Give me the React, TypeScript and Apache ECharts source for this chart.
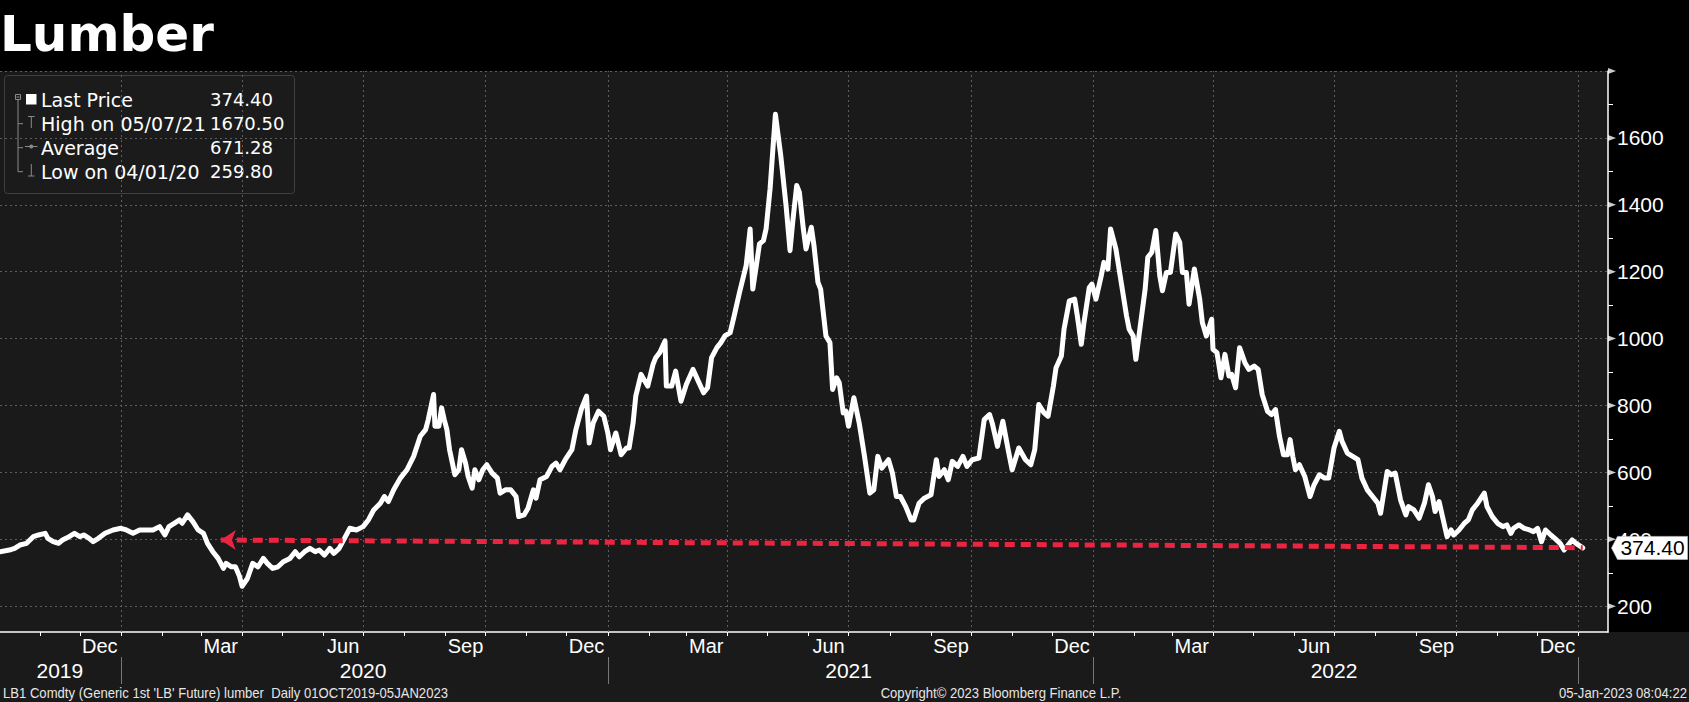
import React, { useEffect, useRef } from 'react';
import * as echarts from 'echarts';

// ---------------- DATA ----------------
const dates2019 = [
  '2019-10-02','2019-10-09','2019-10-13','2019-10-17','2019-10-22','2019-10-27','2019-10-31','2019-11-05','2019-11-07','2019-11-11',
  '2019-11-15','2019-11-18','2019-11-23','2019-11-27','2019-12-01','2019-12-04','2019-12-08','2019-12-11','2019-12-15','2019-12-20',
  '2019-12-26',
];
const prices2019 = [
  363,368,373,383,388,408,413,418,403,393,
  388,398,408,418,408,413,403,393,403,418,
  428,
];

const dates2020 = [
  '2020-01-01','2020-01-05','2020-01-10','2020-01-15','2020-01-20','2020-01-25','2020-01-30','2020-02-03','2020-02-06','2020-02-10',
  '2020-02-14','2020-02-16','2020-02-20','2020-02-24','2020-02-28','2020-03-03','2020-03-06','2020-03-10','2020-03-14','2020-03-18',
  '2020-03-20','2020-03-24','2020-03-27','2020-03-30','2020-04-01','2020-04-05','2020-04-09','2020-04-13','2020-04-17','2020-04-20',
  '2020-04-24','2020-04-28','2020-05-02','2020-05-07','2020-05-11','2020-05-14','2020-05-18','2020-05-22','2020-05-26','2020-05-29',
  '2020-06-02','2020-06-06','2020-06-09','2020-06-13','2020-06-17','2020-06-21','2020-06-26','2020-07-01','2020-07-05','2020-07-09',
  '2020-07-14','2020-07-17','2020-07-20','2020-07-24','2020-07-29','2020-08-03','2020-08-08','2020-08-13','2020-08-17','2020-08-19',
  '2020-08-23','2020-08-24','2020-08-27','2020-08-29','2020-08-31','2020-09-02','2020-09-04','2020-09-08','2020-09-11','2020-09-13',
  '2020-09-16','2020-09-18','2020-09-21','2020-09-23','2020-09-26','2020-09-29','2020-10-02','2020-10-06','2020-10-10','2020-10-12',
  '2020-10-16','2020-10-20','2020-10-24','2020-10-26','2020-10-30','2020-11-02','2020-11-06','2020-11-08','2020-11-11','2020-11-16',
  '2020-11-20','2020-11-23','2020-11-26','2020-11-30','2020-12-05','2020-12-08','2020-12-12','2020-12-16','2020-12-18','2020-12-21',
  '2020-12-25','2020-12-29',
];
const prices2020 = [
  433,428,418,428,428,428,438,413,438,448,
  458,448,473,453,428,418,388,363,343,313,
  328,318,318,290,259.8,283,328,318,343,328,
  313,318,333,343,363,348,363,373,363,368,
  353,373,358,373,403,433,428,438,458,488,
  508,528,513,548,583,608,648,708,728,758,
  833,738,738,793,758,728,668,593,608,668,
  628,588,553,608,578,608,623,598,583,538,
  548,548,528,468,473,493,548,523,578,588,
  618,628,608,638,668,728,788,828,688,748,
  783,768,
];

const dates2021 = [
  '2021-01-01','2021-01-03','2021-01-07','2021-01-11','2021-01-15','2021-01-17','2021-01-20','2021-01-22','2021-01-26','2021-01-31',
  '2021-02-04','2021-02-06','2021-02-09','2021-02-13','2021-02-14','2021-02-18','2021-02-21','2021-02-25','2021-03-01','2021-03-06',
  '2021-03-10','2021-03-14','2021-03-17','2021-03-20','2021-03-24','2021-03-27','2021-03-30','2021-04-03','2021-04-06','2021-04-10',
  '2021-04-15','2021-04-18','2021-04-20','2021-04-23','2021-04-25','2021-04-28','2021-04-30','2021-05-03','2021-05-05','2021-05-07',
  '2021-05-11','2021-05-15','2021-05-18','2021-05-20','2021-05-23','2021-05-25','2021-05-28','2021-05-30','2021-06-03','2021-06-05',
  '2021-06-08','2021-06-10','2021-06-14','2021-06-17','2021-06-19','2021-06-22','2021-06-24','2021-06-27','2021-06-29','2021-07-01',
  '2021-07-05','2021-07-09','2021-07-13','2021-07-17','2021-07-20','2021-07-23','2021-07-26','2021-07-31','2021-08-03','2021-08-06',
  '2021-08-09','2021-08-13','2021-08-17','2021-08-19','2021-08-23','2021-08-27','2021-09-01','2021-09-05','2021-09-07','2021-09-11',
  '2021-09-14','2021-09-17','2021-09-21','2021-09-25','2021-09-28','2021-10-02','2021-10-07','2021-10-11','2021-10-15','2021-10-17',
  '2021-10-21','2021-10-25','2021-10-29','2021-11-01','2021-11-06','2021-11-11','2021-11-15','2021-11-18','2021-11-21','2021-11-25',
  '2021-11-28','2021-12-02','2021-12-04','2021-12-08','2021-12-10','2021-12-14','2021-12-18','2021-12-20','2021-12-23','2021-12-25',
  '2021-12-29','2021-12-31',
];
const prices2021 = [
  718,668,718,653,673,673,748,828,893,858,
  923,943,958,993,858,858,903,813,863,908,
  873,838,853,943,973,988,1008,1018,1068,1138,
  1218,1328,1148,1228,1283,1293,1328,1448,1560,1670.5,
  1548,1398,1263,1348,1458,1438,1328,1268,1333,1278,
  1168,1148,1008,988,848,883,868,778,783,738,
  823,748,648,538,548,648,613,638,598,528,
  528,498,458,458,508,523,533,638,588,608,
  578,633,618,648,618,638,643,758,773,748,
  678,753,668,608,673,638,623,668,803,778,
  768,858,913,948,1028,1113,1118,1068,983,1048,
  1153,1163,
];

const dates2022 = [
  '2022-01-03','2022-01-07','2022-01-09','2022-01-12','2022-01-14','2022-01-18','2022-01-22','2022-01-26','2022-01-28','2022-01-31',
  '2022-02-02','2022-02-05','2022-02-09','2022-02-11','2022-02-14','2022-02-17','2022-02-20','2022-02-22','2022-02-25','2022-02-28',
  '2022-03-04','2022-03-07','2022-03-09','2022-03-12','2022-03-14','2022-03-18','2022-03-22','2022-03-24','2022-03-27','2022-03-31',
  '2022-04-01','2022-04-04','2022-04-07','2022-04-10','2022-04-13','2022-04-15','2022-04-18','2022-04-21','2022-04-25','2022-04-28',
  '2022-05-02','2022-05-05','2022-05-08','2022-05-12','2022-05-15','2022-05-18','2022-05-21','2022-05-24','2022-05-27','2022-05-29',
  '2022-05-31','2022-06-02','2022-06-05','2022-06-09','2022-06-13','2022-06-16','2022-06-20','2022-06-24','2022-06-27','2022-07-01',
  '2022-07-05','2022-07-07','2022-07-11','2022-07-15','2022-07-19','2022-07-22','2022-07-26','2022-07-30','2022-08-03','2022-08-05',
  '2022-08-08','2022-08-10','2022-08-13','2022-08-16','2022-08-20','2022-08-24','2022-08-26','2022-08-30','2022-09-03','2022-09-07',
  '2022-09-10','2022-09-13','2022-09-15','2022-09-18','2022-09-20','2022-09-24','2022-09-27','2022-09-29','2022-10-03','2022-10-07',
  '2022-10-10','2022-10-13','2022-10-17','2022-10-22','2022-10-24','2022-10-28','2022-11-01','2022-11-05','2022-11-08','2022-11-11',
  '2022-11-13','2022-11-17','2022-11-21','2022-11-25','2022-11-28','2022-12-01','2022-12-04','2022-12-07','2022-12-11','2022-12-14',
  '2022-12-18','2022-12-21','2022-12-23','2022-12-27','2022-12-30','2023-01-04',
];
const prices2022 = [
  1118,1188,1228,1208,1328,1268,1168,1068,1028,1008,
  938,1028,1148,1243,1258,1323,1188,1143,1198,1198,
  1313,1288,1198,1198,1103,1208,1118,1048,1008,1058,
  968,958,883,953,888,893,853,973,928,908,
  918,908,833,783,773,788,708,653,653,698,
  648,608,623,588,528,563,593,583,583,673,
  723,693,658,648,638,583,548,528,508,478,
  553,603,593,598,518,473,498,488,463,508,
  563,528,483,513,478,408,428,413,428,448,
  458,488,508,538,498,468,448,438,443,418,
  433,443,433,428,423,433,393,428,413,403,
  388,368,378,398,388,374.4,
];

// axis extents and ticks
const axisStart = '2019-10-02';
const axisEnd = '2023-01-23';
const yMin = 123;
const yMax = 1800;

const monthTicks = [
  '2019-11-01','2019-12-01',
  '2020-01-01','2020-02-01','2020-03-01','2020-04-01','2020-05-01','2020-06-01','2020-07-01','2020-08-01','2020-09-01','2020-10-01','2020-11-01','2020-12-01',
  '2021-01-01','2021-02-01','2021-03-01','2021-04-01','2021-05-01','2021-06-01','2021-07-01','2021-08-01','2021-09-01','2021-10-01','2021-11-01','2021-12-01',
  '2022-01-01','2022-02-01','2022-03-01','2022-04-01','2022-05-01','2022-06-01','2022-07-01','2022-08-01','2022-09-01','2022-10-01','2022-11-01','2022-12-01',
  '2023-01-01',
];
const quarterLines = [
  '2020-01-01','2020-04-01','2020-07-01','2020-10-01',
  '2021-01-01','2021-04-01','2021-07-01','2021-10-01',
  '2022-01-01','2022-04-01','2022-07-01','2022-10-01',
  '2023-01-01',
];
const monthLabelDates = [
  '2019-12-16','2020-03-16','2020-06-16','2020-09-16','2020-12-16','2021-03-16','2021-06-16',
  '2021-09-16','2021-12-16','2022-03-16','2022-06-16','2022-09-16','2022-12-16',
];
const monthNames = ['Jan','Feb','Mar','Apr','May','Jun','Jul','Aug','Sep','Oct','Nov','Dec'];
const yearLabelDates = ['2019-11-16','2020-07-01','2021-07-01','2022-07-01'];
const yearSeparators = ['2020-01-01','2021-01-01','2022-01-01','2023-01-01'];

const yGridValues = [200,400,600,800,1000,1200,1400,1600,1800];
const yLabelValues = [200,400,600,800,1000,1200,1400,1600];
const yMinorValues = [300,500,700,900,1100,1300,1500,1700];

const trendFrom = { date: '2020-03-16', value: 398 };
const trendTo = { date: '2023-01-04', value: 375 };

const lastPriceText = '374.40';
const legendLabels = ['Last Price','High on 05/07/21','Average','Low on 04/01/20'];
const legendValues = ['374.40','1670.50','671.28','259.80'];

const titleText = 'Lumber';
const footerLeft = "LB1 Comdty (Generic 1st 'LB' Future) lumber  Daily 01OCT2019-05JAN2023";
const footerMid = 'Copyright\u00A9 2023 Bloomberg Finance L.P.';
const footerRight = '05-Jan-2023 08:04:22';

// ---------------- HELPERS ----------------
const ts = (s: string) => {
  const [y, m, d] = s.split('-').map(Number);
  return Date.UTC(y, m - 1, d);
};

const allDates = [...dates2019, ...dates2020, ...dates2021, ...dates2022];
const allPrices = [...prices2019, ...prices2020, ...prices2021, ...prices2022];
const seriesData = allDates.map((d, i) => [ts(d), allPrices[i]]);
const lastPoint = seriesData[seriesData.length - 1];

const W = 1689;
const H = 702;
const gridLeft = 0;
const gridRight = 81;
const gridTop = 71;
const gridBottom = 70;
const plotRight = W - gridRight;
const plotBottom = H - gridBottom;

const AX_FONT = "'Liberation Sans', Arial, sans-serif";
const FOOT_FONT = "'Liberation Sans', Arial, sans-serif";
const LEG_FONT = "'DejaVu Sans', Verdana, sans-serif";
const ICON = '#8a8a8a';
const RED = '#ea2441';

function buildLegend() {
  const rowY = [99.7, 123.7, 147.7, 171.7];
  const children: any[] = [
    {
      type: 'rect',
      shape: { x: 4.5, y: 75.5, width: 290, height: 118, r: 3 },
      style: { fill: '#1b1b1b', stroke: '#404040', lineWidth: 1 },
    },
    // tree box
    { type: 'rect', shape: { x: 15.5, y: 94.5, width: 5, height: 5 }, style: { fill: 'none', stroke: ICON, lineWidth: 1 } },
    { type: 'line', shape: { x1: 16.5, y1: 97, x2: 19.5, y2: 97 }, style: { stroke: ICON, lineWidth: 1 } },
    { type: 'line', shape: { x1: 18, y1: 100, x2: 18, y2: rowY[3] }, style: { stroke: ICON, lineWidth: 1 } },
    { type: 'line', shape: { x1: 18, y1: rowY[1], x2: 23, y2: rowY[1] }, style: { stroke: ICON, lineWidth: 1 } },
    { type: 'line', shape: { x1: 18, y1: rowY[2], x2: 23, y2: rowY[2] }, style: { stroke: ICON, lineWidth: 1 } },
    { type: 'line', shape: { x1: 18, y1: rowY[3], x2: 23, y2: rowY[3] }, style: { stroke: ICON, lineWidth: 1 } },
    // row icons
    { type: 'rect', shape: { x: 26, y: 94, width: 10.5, height: 10.5 }, style: { fill: '#ffffff' } },
    { type: 'line', shape: { x1: 28, y1: 116.5, x2: 34.5, y2: 116.5 }, style: { stroke: ICON, lineWidth: 1 } },
    { type: 'line', shape: { x1: 31.3, y1: 116.5, x2: 31.3, y2: 128 }, style: { stroke: ICON, lineWidth: 1 } },
    { type: 'line', shape: { x1: 25, y1: 146.5, x2: 37.5, y2: 146.5 }, style: { stroke: ICON, lineWidth: 1 } },
    { type: 'circle', shape: { cx: 31.3, cy: 146.5, r: 2 }, style: { fill: ICON } },
    { type: 'line', shape: { x1: 31.3, y1: 164, x2: 31.3, y2: 176 }, style: { stroke: ICON, lineWidth: 1 } },
    { type: 'line', shape: { x1: 28, y1: 176, x2: 34.5, y2: 176 }, style: { stroke: ICON, lineWidth: 1 } },
  ];
  legendLabels.forEach((t, i) => {
    children.push({
      type: 'text',
      x: 41,
      y: rowY[i],
      style: { text: t, fill: '#ffffff', fontSize: 19, fontFamily: LEG_FONT, verticalAlign: 'middle', align: 'left' },
    });
    children.push({
      type: 'text',
      x: 210,
      y: rowY[i],
      style: { text: legendValues[i], fill: '#ffffff', fontSize: 18, fontFamily: LEG_FONT, verticalAlign: 'middle', align: 'left' },
    });
  });
  return { type: 'group', children };
}

function buildOption(): any {
  return {
    animation: false,
    backgroundColor: '#1a1a1a',
    grid: {
      left: gridLeft,
      right: gridRight,
      top: gridTop,
      bottom: gridBottom,
      containLabel: false,
      outerBoundsMode: 'none',
    },
    xAxis: [
      {
        type: 'value',
        min: ts(axisStart),
        max: ts(axisEnd),
        position: 'bottom',
        axisLine: { show: true, onZero: false, lineStyle: { color: '#ffffff', width: 1.5 } },
        axisTick: {
          show: true,
          customValues: monthTicks.map(ts),
          length: 4,
          lineStyle: { color: '#ffffff', width: 1 },
        },
        axisLabel: {
          show: true,
          customValues: monthLabelDates.map(ts),
          formatter: (v: number) => monthNames[new Date(v).getUTCMonth()],
          color: '#ffffff',
          fontSize: 20,
          fontFamily: AX_FONT,
          margin: 4,
        },
        splitLine: { show: false },
      },
      {
        type: 'value',
        min: ts(axisStart),
        max: ts(axisEnd),
        position: 'bottom',
        offset: 25,
        axisLine: { show: false, onZero: false },
        axisTick: {
          show: true,
          customValues: yearSeparators.map(ts),
          length: 27,
          lineStyle: { color: '#777777', width: 1 },
        },
        axisLabel: {
          show: true,
          customValues: yearLabelDates.map(ts),
          formatter: (v: number) => String(new Date(v).getUTCFullYear()),
          color: '#ffffff',
          fontSize: 21,
          fontFamily: AX_FONT,
          margin: 3,
        },
        splitLine: { show: false },
      },
    ],
    yAxis: {
      type: 'value',
      position: 'right',
      min: yMin,
      max: yMax,
      axisLine: { show: true, onZero: false, lineStyle: { color: '#ffffff', width: 1.5 } },
      axisTick: {
        show: true,
        customValues: yMinorValues,
        length: 5,
        lineStyle: { color: '#ffffff', width: 1 },
      },
      axisLabel: {
        show: true,
        customValues: yLabelValues,
        formatter: (v: number) => String(v),
        color: '#ffffff',
        fontSize: 21,
        fontFamily: AX_FONT,
        margin: 9,
      },
      splitLine: { show: false },
    },
    series: [
      {
        name: 'grid',
        type: 'line',
        data: [],
        silent: true,
        z: 1,
        markLine: {
          silent: true,
          z: 1,
          symbol: 'none',
          label: { show: false },
          emphasis: { disabled: true },
          lineStyle: { color: '#5e5e5e', type: [2, 3], width: 1 },
          data: [
            ...yGridValues.map((v) => ({ yAxis: v })),
            ...quarterLines.map((d) => ({ xAxis: ts(d) })),
          ],
        },
      },
      {
        name: 'Last Price',
        type: 'line',
        data: seriesData,
        showSymbol: false,
        symbol: 'none',
        z: 3,
        lineStyle: { color: '#ffffff', width: 5, join: 'round', cap: 'round' },
        silent: true,
        markLine: {
          silent: true,
          z: 6,
          label: { show: false },
          emphasis: { disabled: true },
          lineStyle: { color: RED, width: 5, type: [10, 6] },
          data: [
            [
              { coord: [ts(trendFrom.date), trendFrom.value], symbol: 'arrow', symbolSize: [15, 15] },
              { coord: [ts(trendTo.date), trendTo.value], symbol: 'none' },
            ],
          ],
        },
        markPoint: {
          silent: true,
          z: 7,
          data: [{ coord: lastPoint, value: lastPoint[1] }],
          symbol: 'path://M0,11.5L6,0L76,0L76,23L6,23Z',
          symbolSize: [76, 23],
          symbolKeepAspect: false,
          symbolOffset: [67, 0],
          itemStyle: { color: '#ffffff', borderColor: '#cccccc', borderWidth: 0.5 },
          label: {
            show: true,
            position: 'inside',
            formatter: () => lastPriceText,
            color: '#000000',
            fontSize: 21,
            fontFamily: AX_FONT,
            offset: [3, 0],
          },
        },
      },
      {
        name: 'ticks',
        type: 'scatter',
        data: yGridValues.map((v) => [ts(axisEnd), v]),
        symbol: 'triangle',
        symbolSize: [6, 8],
        symbolRotate: -90,
        symbolOffset: [4, 0],
        itemStyle: { color: '#ffffff' },
        clip: false,
        silent: true,
        z: 4,
      },
    ],
    graphic: [
      { type: 'rect', z: -10, shape: { x: 0, y: 0, width: W, height: gridTop }, style: { fill: '#000000' } },
      { type: 'rect', z: -10, shape: { x: plotRight, y: 0, width: gridRight, height: plotBottom }, style: { fill: '#000000' } },
      {
        type: 'text',
        x: 0,
        y: 34,
        style: { text: titleText, fill: '#ffffff', fontSize: 50, fontWeight: 'bold', fontFamily: LEG_FONT, verticalAlign: 'middle', align: 'left' },
      },
      buildLegend(),
      {
        type: 'text',
        x: 3,
        y: 693,
        scaleX: 0.935,
        style: { text: footerLeft, fill: '#e6e6e6', fontSize: 14, fontFamily: FOOT_FONT, verticalAlign: 'middle', align: 'left' },
      },
      {
        type: 'text',
        x: 1001,
        y: 693,
        scaleX: 0.935,
        style: { text: footerMid, fill: '#e6e6e6', fontSize: 14, fontFamily: FOOT_FONT, verticalAlign: 'middle', align: 'center' },
      },
      {
        type: 'text',
        x: 1687,
        y: 693,
        scaleX: 0.935,
        style: { text: footerRight, fill: '#e6e6e6', fontSize: 14, fontFamily: FOOT_FONT, verticalAlign: 'middle', align: 'right' },
      },
    ],
  };
}

export default function App() {
  const ref = useRef<HTMLDivElement>(null);
  useEffect(() => {
    document.body.style.margin = '0';
    const el = ref.current;
    if (!el) return;
    const chart = echarts.init(el, null, { renderer: 'svg' });
    chart.setOption(buildOption());
    // place the last-price box just right of the axis line
    const px = chart.convertToPixel({ gridIndex: 0 }, lastPoint as any) as any;
    if (px && Array.isArray(px)) {
      const boxCenter = plotRight + 3.5 + 38;
      chart.setOption({ series: [{}, { markPoint: { symbolOffset: [boxCenter - px[0], 0] } }] });
    }
    return () => chart.dispose();
  }, []);
  return <div ref={ref} style={{ width: W, height: H, overflow: 'hidden' }} />;
}
